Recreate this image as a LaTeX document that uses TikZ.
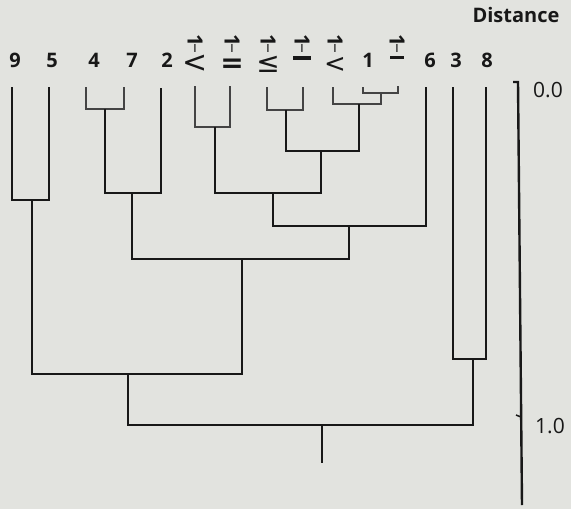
\documentclass[tikz,border=0pt]{standalone}
\usepackage{fontspec}
\setmainfont{Open Sans}
\newfontfamily\lblfont{Open Sans}
\newfontfamily\dvs{DejaVu Sans}
\definecolor{bg}{RGB}{226,227,223}
\definecolor{ink}{RGB}{24,24,24}
\definecolor{inkb}{RGB}{68,68,68}
\newcommand{\vlab}[1]{\makebox[0pt]{#1}\makebox[0pt]{\raisebox{19.5pt}{\lblfont\fontsize{15}{15}\selectfont\i}}\makebox[0pt]{\raisebox{37.5pt}{\lblfont\bfseries\fontsize{21}{21}\selectfont\rotatebox{-90}{1}}}}
\tikzset{
  lbl/.style={anchor=base, inner sep=0pt, text=ink, font=\lblfont\bfseries\fontsize{20}{20}\selectfont},
  axv/.style={anchor=base west, inner sep=0pt, text=ink, font=\lblfont\fontsize{21}{21}\selectfont},
  vl/.style={anchor=base, inner sep=0pt, text=ink},
  br/.style={draw=ink, line width=2.4pt},
  brthin/.style={draw=inkb, line width=1.8pt},
}
\begin{document}
\begin{tikzpicture}[x=1pt,y=-1pt]
\useasboundingbox (0,0) rectangle (571,509);
\fill[bg] (0,0) rectangle (571,509);
% title and axis labels
\node[lbl] (dist) at (516,22) {Distance};
\node[axv] (z0) at (533,97) {0.0};
\node[axv] (z1) at (535,433) {1.0};
% leaf labels
\node[lbl] (l9) at (15,67.5) {9};
\node[lbl] (l5) at (52,67.5) {5};
\node[lbl] (l4) at (94,67.5) {4};
\node[lbl] (l7) at (132,67.5) {7};
\node[lbl] (l2) at (167,67.5) {2};
\node[vl] (lA) at (195,72) {\vlab{\dvs\fontsize{30}{30}\selectfont <}};
\node[vl] (lB) at (232,72) {\vlab{\dvs\bfseries\fontsize{28}{28}\selectfont =}};
\node[vl] (lC) at (268,72) {\vlab{\dvs\fontsize{28}{28}\selectfont ≤}};
\node[vl] (lD) at (302,72) {\vlab{\raisebox{12pt}{\rule{18pt}{4.5pt}}}};
\node[vl] (lE) at (335,72) {\vlab{\dvs\fontsize{26}{26}\selectfont <}};
\node[lbl] (l1) at (368,67.5) {1};
\node[vl] (lF) at (397,72) {\vlab{\raisebox{13pt}{\rule{14pt}{2.6pt}}}};
\node[lbl] (l6) at (430,67.5) {6};
\node[lbl] (l3) at (456,67.5) {3};
\node[lbl] (l8) at (487,67.5) {8};
% leaf tops
\coordinate (t9) at (12,87);
\coordinate (t5) at (49,87);
\coordinate (t4) at (86,87);
\coordinate (t7) at (124,87);
\coordinate (t2) at (161,88);
\coordinate (tA) at (195,86);
\coordinate (tB) at (230,86);
\coordinate (tC) at (267,87);
\coordinate (tD) at (303,87);
\coordinate (tE) at (333,87);
\coordinate (t1) at (363,87);
\coordinate (tF) at (398,86);
\coordinate (t6) at (426,87);
\coordinate (t3) at (453,87);
\coordinate (t8) at (486,87);
% internal joins
\coordinate (n47) at (105,109);
\coordinate (n472) at (132,193);
\coordinate (nAB) at (215,127);
\coordinate (nCD) at (286,110);
\coordinate (n1F) at (381,93);
\coordinate (nE1F) at (359,104);
\coordinate (nCDE) at (321,151);
\coordinate (nABC) at (273,193);
\coordinate (n6) at (349,226);
\coordinate (n2x) at (242,259);
\coordinate (n95) at (32,200);
\coordinate (n95x) at (128,374);
\coordinate (n38) at (473,359);
\coordinate (root) at (322,425);
\coordinate (rootend) at (322,463);
% dendrogram
\draw[br] (t9) |- (n95) -| (t5);
\draw[brthin] (t4) |- (n47) -| (t7);
\draw[br] (n47) |- (n472) -| (t2);
\draw[brthin] (tA) |- (nAB) -| (tB);
\draw[brthin] (tC) |- (nCD) -| (tD);
\draw[brthin] (t1) |- (n1F) -| (tF);
\draw[brthin] (tE) |- (nE1F) -| (n1F);
\draw[br] (nCD) |- (nCDE) -| (nE1F);
\draw[br] (nAB) |- (nABC) -| (nCDE);
\draw[br] (nABC) |- (n6) -| (t6);
\draw[br] (n472) |- (n2x) -| (n6);
\draw[br] (n95) |- (n95x) -| (n2x);
\draw[br] (t3) |- (n38) -| (t8);
\draw[br] (n95x) |- (root) -| (n38);
\draw[br] (root) -- (rootend);
% distance axis
\coordinate (ax0) at (518,82);
\coordinate (ax1) at (522,505);
\coordinate (axh) at (513,82);
\coordinate (tk1) at (521,417);
\coordinate (tk1a) at (516,415);
\draw[br] (axh) -- (ax0) -- (ax1);
\draw[draw=ink, line width=1.5pt] (tk1a) -- (tk1);
\end{tikzpicture}
\end{document}
